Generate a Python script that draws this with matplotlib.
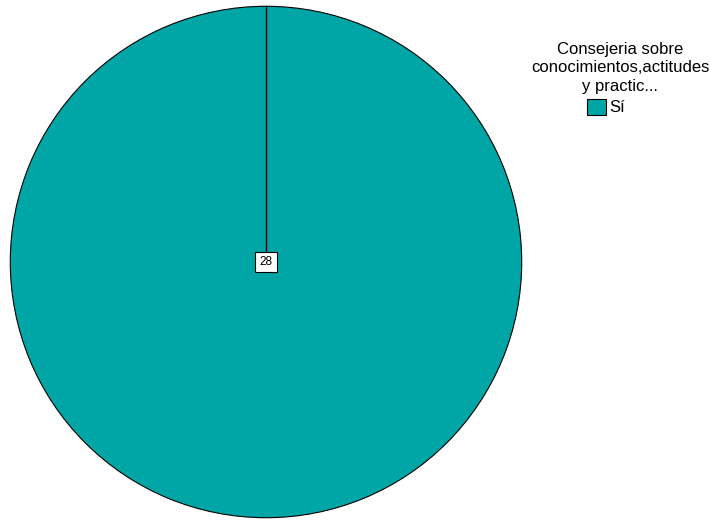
import matplotlib
matplotlib.use("Agg")
import matplotlib.pyplot as plt
from matplotlib.patches import Patch

plt.rcParams['font.family'] = ['Liberation Sans', 'DejaVu Sans']

# counts per answer
categories = ['Sí']
counts = [28]
colors = ['#00a5a5']
legend_title = ['Consejeria sobre', 'conocimientos,actitudes', 'y practic...']

W, H = 710, 520
fig = plt.figure(figsize=(W / 100, H / 100), dpi=100)
ax = fig.add_axes([9 / W, 1 - 519 / H, 514 / W, 514 / H])

wedges, _ = ax.pie(counts, colors=colors, startangle=90, counterclock=False,
                   radius=1, wedgeprops=dict(edgecolor='black', linewidth=0.8))
# the single slice still shows its start edge
ax.plot([0, 0], [0, 1], color='black', linewidth=1)
ax.text(0, 0, str(counts[0]), ha='center', va='center', fontsize=8.5,
        bbox=dict(boxstyle='square,pad=0.35', facecolor='white',
                  edgecolor='black', linewidth=0.8))
ax.set_xlim(-1.005, 1.005)
ax.set_ylim(-1.005, 1.005)
ax.set_aspect('equal')
ax.axis('off')

# legend title, one line at a time
for i, line in enumerate(legend_title):
    fig.text(620 / W, 1 - (54 + 18.5 * i) / H, line, ha='center',
             va='baseline', fontsize=12)

handles = [Patch(facecolor=c, edgecolor='black', linewidth=0.8) for c in colors]
fig.legend(handles, categories, loc='center',
           bbox_to_anchor=(606 / W, 1 - 107 / H),
           frameon=False, fontsize=12,
           handlelength=1.1, handleheight=1.1, handletextpad=0.2,
           borderpad=0.0, borderaxespad=0.0)

fig.savefig('out.png', dpi=100)
